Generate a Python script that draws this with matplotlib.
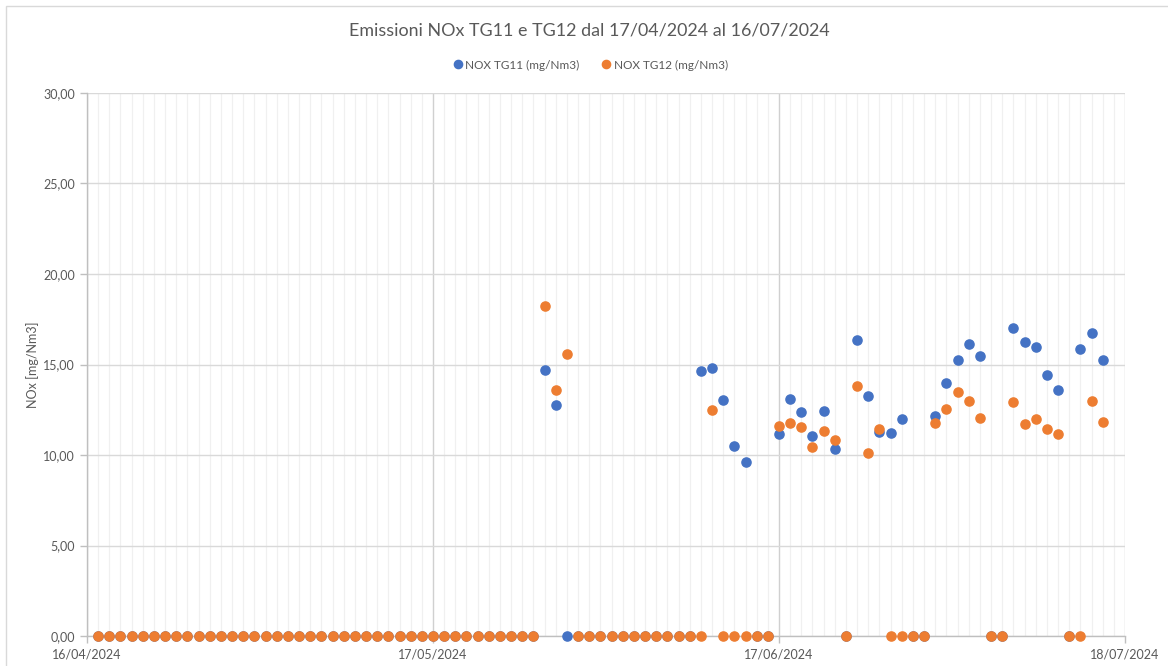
import matplotlib
matplotlib.use("Agg")
import matplotlib.pyplot as plt
import matplotlib.dates as mdates
import pandas as pd
from matplotlib.patches import Rectangle

# giorni dal 17/04/2024 al 16/07/2024
giorni = pd.date_range("2024-04-17", "2024-07-16", freq="D")

tg11 = [
    0, 0, 0, 0, 0, 0, 0, 0, 0, 0,
    0, 0, 0, 0, 0, 0, 0, 0, 0, 0,
    0, 0, 0, 0, 0, 0, 0, 0, 0, 0,
    0, 0, 0, 0, 0, 0, 0, 0, 0, 0,
    14.71, 12.76, 0, 0, 0, 0, 0, 0, 0, 0,
    0, 0, 0, 0, 14.62, 14.79, 13.04, 10.51, 9.61, 0,
    0, 11.14, 13.11, 12.38, 11.03, 12.41, 10.35, 0, 16.37, 13.26,
    11.25, 11.20, 11.97, 0, 0, 12.15, 13.96, 15.23, 16.15, 15.45,
    0, 0, 17.02, 16.26, 15.95, 14.42, 13.57, 0, 15.87, 16.75,
    15.27,
]
tg12 = [
    0, 0, 0, 0, 0, 0, 0, 0, 0, 0,
    0, 0, 0, 0, 0, 0, 0, 0, 0, 0,
    0, 0, 0, 0, 0, 0, 0, 0, 0, 0,
    0, 0, 0, 0, 0, 0, 0, 0, 0, 0,
    18.21, 13.61, 15.56, 0, 0, 0, 0, 0, 0, 0,
    0, 0, 0, 0, 0, 12.50, 0, 0, 0, 0,
    0, 11.60, 11.77, 11.57, 10.46, 11.31, 10.81, 0, 13.83, 10.11,
    11.45, 0, 0, 0, 0, 11.77, 12.54, 13.50, 13.00, 12.04,
    0, 0, 12.93, 11.69, 11.97, 11.44, 11.16, 0, 0, 13.00,
    11.82,
]

date_assi = pd.to_datetime(["2024-04-16", "2024-05-17", "2024-06-17", "2024-07-18"])
y_ticks = [0, 5, 10, 15, 20, 25, 30]

GRIGIO_TESTO = "#595959"
BLU = "#4472C4"
ARANCIO = "#ED7D31"

plt.rcParams["font.family"] = ["Lato", "DejaVu Sans"]

fig = plt.figure(figsize=(11.68, 6.66), dpi=100)
ax = fig.add_axes([87 / 1168, 1 - 636 / 666, (1125 - 87) / 1168, (636 - 93) / 666])

# bordo del grafico (stile Excel)
fig.patches.append(Rectangle((6 / 1168, -0.1), 1.2, 1 - 6 / 666 + 0.1,
                             transform=fig.transFigure, fill=False,
                             edgecolor="#d9d9d9", linewidth=1.0))

ax.plot(giorni, tg11, "o", color=BLU, markersize=6.6, label="NOX TG11 (mg/Nm3)",
        zorder=3, clip_on=False)
ax.plot(giorni, tg12, "o", color=ARANCIO, markersize=6.6, label="NOX TG12 (mg/Nm3)",
        zorder=4, clip_on=False)

ax.set_xlim(date_assi[0], date_assi[-1])
ax.set_ylim(0, 30)
ax.set_xticks(date_assi)
ax.xaxis.set_major_formatter(mdates.DateFormatter("%d/%m/%Y"))
ax.xaxis.set_minor_locator(mdates.DayLocator())
ax.set_yticks(y_ticks)
ax.set_yticklabels([f"{v:.2f}".replace(".", ",") for v in y_ticks])

ax.grid(which="minor", axis="x", color="#f0f0f0", linewidth=0.9, zorder=0)
ax.grid(which="major", axis="x", color="#d0d0d0", linewidth=1.0, zorder=0)
ax.grid(which="major", axis="y", color="#d9d9d9", linewidth=1.0, zorder=0)
ax.set_axisbelow(True)

for s in ["top", "right"]:
    ax.spines[s].set_visible(False)
for s in ["left", "bottom"]:
    ax.spines[s].set_color("#bfbfbf")
    ax.spines[s].set_linewidth(1.0)

ax.tick_params(axis="both", which="major", colors="#bfbfbf", length=5, width=1,
               labelcolor=GRIGIO_TESTO, labelsize=9)
ax.tick_params(axis="x", which="minor", length=0)
ax.tick_params(axis="x", pad=4)

ax.set_ylabel("NOx [mg/Nm3]", color=GRIGIO_TESTO, fontsize=9, labelpad=3)

fig.text(0.505, 1 - 31 / 666, "Emissioni NOx TG11 e TG12 dal 17/04/2024 al 16/07/2024",
         ha="center", va="center", fontsize=12.9, color=GRIGIO_TESTO)

leg = fig.legend(loc="center", bbox_to_anchor=(0.505, 1 - 65 / 666), ncol=2,
                 frameon=False, fontsize=8.5, handletextpad=0.1, columnspacing=1.8,
                 markerscale=0.9, handlelength=1.0)
for t in leg.get_texts():
    t.set_color(GRIGIO_TESTO)

fig.savefig("out.png", dpi=100)
